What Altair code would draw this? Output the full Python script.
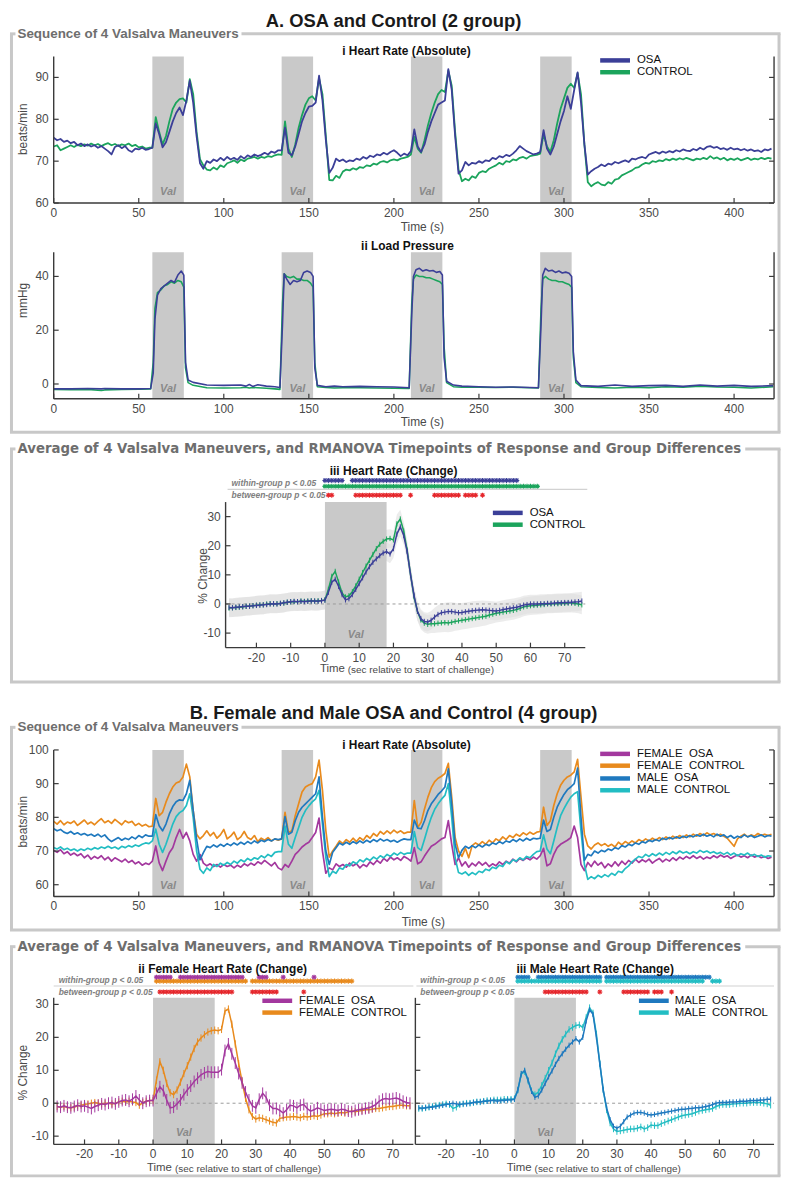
import altair as alt
import pandas as pd

FONT = "Liberation Sans"
BOXFONT = "DejaVu Sans"
AXC = "#3a3a3a"
TXC = "#4a4a4a"
BOXC = "#c8c8c8"
VALC = "#c9c9c9"
C_OSA, C_CTL = "#3b3f98", "#1ba45c"
C_FO, C_FC, C_MO, C_MC = "#a3389e", "#e88a1d", "#1f79bf", "#22bdc3"
C_RED = "#e5262b"

# ------------------------------------------------------------------ data
HR_T = list(range(0, 423, 2))  # seconds, one sample every 2 s

A_OSA = [75.6,75.0,75.3,74.6,74.9,74.3,74.6,73.8,74.2,73.6,74.0,73.5,73.8,73.2,73.6,73.0,72.4,71.6,73.4,73.8,73.1,73.6,72.6,72.2,73.0,72.8,73.2,72.7,72.9,
         73.2,79.0,76.5,73.3,74.5,77.0,79.5,81.5,82.8,81.0,84.5,89.2,84.0,76.0,69.5,68.2,70.0,69.6,70.4,70.0,70.8,70.2,71.0,70.4,70.8,70.3,71.2,70.6,71.4,71.0,71.6,71.2,71.5,72.0,71.6,72.3,72.0,72.6,
         72.6,78.0,72.0,71.4,73.5,76.5,79.5,81.5,83.0,83.2,84.0,90.4,84.5,75.0,67.2,68.4,70.6,70.0,70.4,69.8,70.2,70.0,70.6,70.3,71.0,70.6,71.3,71.0,71.6,71.4,72.0,71.6,72.2,72.6,72.0,71.2,71.8,71.4,
         72.4,77.6,73.5,72.2,74.0,77.0,79.5,81.5,83.5,84.0,84.5,92.0,87.0,76.0,67.0,67.8,69.8,69.0,69.6,69.4,70.0,69.6,70.2,70.0,70.8,70.5,71.2,70.9,71.5,71.2,71.8,72.6,73.6,73.0,72.4,72.0,71.6,71.8,
         72.2,77.4,73.0,71.6,73.5,76.5,79.5,82.0,85.5,82.5,87.0,91.2,84.0,74.0,66.8,67.6,68.2,68.6,69.2,68.8,69.4,69.2,69.8,69.5,69.9,70.2,69.8,70.6,70.4,70.8,71.0,70.7,71.6,71.9,72.2,71.8,72.3,72.0,72.4,72.1,
         72.6,72.3,72.8,72.5,72.4,72.9,72.6,73.2,72.8,73.4,73.6,73.2,73.4,72.9,73.1,72.7,73.2,72.8,73.0,72.6,72.9,72.5,72.8,72.4,72.6,72.2,72.8,72.6,73.0]
A_CTL = [73.5,73.8,72.6,73.0,73.4,73.8,73.4,73.9,73.6,74.0,73.7,74.2,73.8,74.1,73.6,74.0,74.3,73.8,74.1,73.6,74.0,73.8,74.2,73.6,73.9,73.3,73.5,73.0,73.2,
         73.2,80.5,77.0,74.0,76.0,79.5,82.5,84.0,84.8,85.0,84.0,89.6,86.0,77.0,70.5,69.0,68.0,67.8,68.5,68.0,69.0,68.6,69.5,69.8,70.2,69.6,70.4,70.0,70.6,70.8,71.0,70.6,71.0,70.8,71.2,71.0,71.4,71.6,
         71.5,79.5,73.0,71.0,74.0,78.0,81.0,83.5,85.0,85.5,84.5,89.8,86.0,76.0,65.5,65.4,66.5,66.0,67.5,68.0,67.8,68.3,68.0,68.6,68.4,69.0,68.8,69.4,69.2,69.8,70.0,69.7,70.2,70.4,70.2,70.6,70.8,71.0,
         71.6,75.8,73.0,72.0,75.0,78.5,81.5,84.0,86.0,87.0,86.5,91.6,88.0,77.0,68.0,65.2,65.8,65.4,66.4,66.0,67.2,67.6,67.4,68.2,68.6,69.0,69.6,69.2,70.0,69.8,70.4,70.2,70.8,71.0,70.6,71.2,71.4,71.5,
         71.8,76.5,73.5,72.2,75.0,79.0,82.5,85.0,87.5,88.5,87.5,91.0,86.0,74.0,65.0,64.0,64.6,65.0,64.4,64.2,65.0,64.6,65.6,65.8,66.6,67.0,67.4,67.8,68.4,68.6,69.2,69.6,69.4,70.0,69.8,70.2,70.0,70.5,70.2,70.6,
         70.3,70.7,70.4,70.8,70.5,70.2,70.6,70.4,70.8,70.5,71.2,70.6,70.9,70.4,70.8,70.2,70.6,70.3,70.7,70.2,70.5,70.8,70.3,70.6,70.4,70.8,70.5,70.8,70.6]

P_T = [0,10,20,28,30,40,50,57,
       58.5,59.5,61,63,65,67,69,71,73,75,76.5,77.5,79,
       82,90,100,110,113,115,117,120,125,130,133,
       134.5,135.5,137,139,141,143,145,147,149,151,152.5,153.5,155,
       160,165,170,180,190,200,209,
       210.5,211.5,213,215,217,219,221,223,225,227,228.5,229.5,231,
       235,240,250,260,270,280,285,
       286.5,287.5,289,291,293,295,297,299,301,303,304.5,305.5,307,
       310,320,330,340,350,360,370,380,390,400,410,423]
P_OSA = [-1.8,-1.8,-1.7,-1.8,-1.7,-1.8,-1.8,-1.7,
         4.0,24.0,33.0,35.5,36.5,37.5,38.5,37.8,40.5,42.0,40.5,8.0,1.5,
         0.6,-0.4,-0.5,-0.4,-0.8,-0.2,-0.9,-0.3,-0.8,-1.0,-1.3,
         22.0,41.0,39.0,37.0,38.5,38.0,38.5,41.5,42.0,41.5,40.0,6.0,-0.5,
         -1.0,-0.8,-1.0,-0.9,-1.0,-1.1,-1.4,
         26.0,40.0,42.5,43.0,42.0,42.5,42.0,42.2,41.5,41.8,40.5,10.0,1.0,
         -0.4,-0.8,-1.0,-1.2,-1.1,-1.3,-1.4,
         22.0,40.5,43.0,42.0,42.3,41.5,42.0,41.3,41.6,41.2,40.0,12.0,1.5,
         -0.6,-0.9,-0.4,-0.9,-0.6,-0.5,-0.9,-0.4,-0.8,-0.5,-0.9,-0.6]
P_CTL = [-2.0,-2.1,-2.0,-2.4,-2.2,-2.0,-1.9,-1.8,
         8.0,28.0,34.0,35.0,36.5,37.0,38.0,37.5,38.5,38.0,36.0,6.0,0.5,
         -0.5,-1.4,-1.5,-1.4,-1.2,-1.5,-1.3,-1.4,-1.6,-1.8,-2.0,
         30.0,41.0,40.0,39.5,40.0,39.0,39.0,38.5,38.5,37.5,36.0,8.0,-1.0,
         -1.3,-1.5,-1.4,-1.4,-1.5,-1.6,-1.7,
         30.0,39.0,40.5,40.0,40.0,39.5,39.5,39.0,38.5,38.0,37.0,14.0,0.5,
         -1.0,-1.2,-1.2,-1.3,-1.2,-1.4,-1.5,
         28.0,39.0,40.0,39.0,38.5,38.5,38.0,38.0,37.5,37.0,36.0,10.0,0.5,
         -1.0,-1.3,-1.5,-1.2,-1.4,-1.0,-1.2,-0.8,-1.1,-1.2,-1.5,-1.0]

VAL_START = [58, 134, 210, 286]
VAL_END = [76.5, 152.5, 228.5, 304.5]

B_FO = [70.2,69.6,70.4,69.2,69.8,68.8,69.4,68.6,69.2,68.0,68.8,67.6,68.4,67.8,68.6,67.4,68.2,67.0,68.0,67.4,66.8,67.6,66.6,67.2,66.2,66.8,65.8,66.4,66.0,
        67.0,71.5,66.5,64.2,67.0,69.5,71.0,74.0,76.4,73.8,75.5,73.0,69.0,67.0,69.0,66.4,65.6,66.2,65.4,66.0,65.2,66.0,65.4,65.8,65.0,65.8,65.2,66.2,65.6,66.4,65.8,66.8,66.2,67.2,66.4,65.6,66.6,65.0,
        64.4,66.0,65.2,67.0,69.0,70.0,71.2,72.0,72.6,74.0,75.5,79.8,70.0,63.4,65.0,64.4,66.2,65.4,66.0,65.2,66.4,65.6,66.2,65.0,66.0,65.4,66.8,66.0,67.2,66.4,67.8,67.0,68.2,67.4,68.0,67.2,68.4,67.8,
        67.0,71.0,66.2,66.8,68.5,70.0,71.4,72.0,72.8,73.6,74.0,79.0,72.0,66.0,68.0,65.6,66.8,65.2,66.4,65.6,66.8,65.8,66.6,65.4,66.2,65.6,66.8,66.0,67.0,66.4,67.6,66.8,67.8,67.2,68.0,67.4,68.2,67.6,
        68.6,70.8,65.6,66.2,69.0,71.0,72.0,72.6,73.2,74.0,77.4,74.0,66.0,64.2,66.6,65.4,67.0,65.8,66.6,65.0,66.2,65.4,66.8,65.6,67.0,66.0,67.2,66.4,67.6,66.6,67.4,66.8,67.6,66.4,67.2,67.8,66.8,67.6,67.0,68.0,
        67.2,68.2,67.6,68.4,67.8,68.6,67.8,68.4,67.6,68.2,67.8,68.6,68.0,68.8,68.2,68.6,67.8,68.4,68.8,68.2,68.6,68.0,68.8,68.2,68.6,68.0,68.4,67.8,68.2]
B_FC = [78.8,78.0,79.0,77.8,78.6,78.2,78.9,77.6,78.4,79.2,78.0,78.6,77.8,78.8,79.6,78.4,79.0,78.2,79.4,78.6,77.8,79.0,78.4,78.8,77.6,78.2,77.4,77.9,77.2,
        77.4,85.6,80.5,81.5,84.5,87.0,89.0,90.2,90.6,92.0,95.8,92.0,82.0,75.0,73.6,74.6,76.0,74.5,75.5,73.8,74.8,76.4,73.6,74.4,75.6,73.4,74.2,75.8,74.0,73.4,74.6,72.8,73.8,73.2,74.0,73.0,73.6,73.2,
        73.6,81.5,75.5,76.0,80.5,84.0,87.5,89.0,89.6,90.0,92.0,97.0,88.0,76.0,68.2,70.0,71.4,73.0,72.2,73.4,72.6,73.8,72.8,74.0,73.2,74.6,73.8,75.2,74.4,75.8,75.0,76.0,75.2,76.2,75.4,76.0,75.2,75.6,
        75.6,85.0,77.0,78.5,82.5,86.0,88.8,90.6,91.6,92.2,93.0,96.0,86.0,74.0,70.0,68.4,70.8,68.0,71.6,72.4,71.8,72.8,72.0,73.2,72.4,73.6,73.0,74.2,73.4,74.6,74.0,75.0,74.4,75.4,74.8,75.6,75.0,75.6,
        75.8,83.0,77.6,79.0,83.5,87.0,89.5,91.0,92.0,92.5,93.5,97.2,86.0,75.0,71.5,70.6,71.8,72.4,71.6,72.2,71.4,72.0,71.2,72.6,71.8,72.8,72.2,73.0,72.4,73.4,72.8,73.6,73.0,73.8,73.2,74.0,73.4,74.2,73.6,74.4,
        73.8,74.6,74.0,74.8,74.2,75.0,74.4,75.2,74.6,75.4,74.8,75.2,74.6,75.0,74.4,73.8,72.6,71.4,73.6,74.4,75.0,74.2,74.8,74.4,75.2,74.6,75.0,74.6,75.0]
B_MO = [76.6,76.0,76.4,75.6,75.2,75.8,75.0,75.4,74.8,75.2,74.6,75.0,74.4,75.0,74.2,74.8,73.6,72.8,73.4,74.0,73.2,73.8,73.4,74.2,73.6,74.6,74.0,74.8,74.4,
        74.4,80.8,77.5,76.0,78.0,81.0,83.2,84.6,85.2,85.0,87.0,91.0,82.0,73.5,67.4,69.5,71.4,71.0,71.8,71.2,72.0,71.4,72.2,71.6,72.4,71.8,72.6,72.0,72.8,72.2,73.0,72.4,73.2,72.8,73.4,73.0,73.6,73.4,
        73.6,80.2,75.0,75.6,79.0,81.5,83.0,84.0,85.0,86.0,87.0,92.0,80.0,70.0,66.0,69.6,71.0,72.4,71.8,72.6,72.0,72.8,72.2,73.0,72.4,73.2,72.6,73.4,72.8,73.6,73.0,73.4,72.8,73.2,72.6,73.2,73.6,73.4,
        73.4,79.2,76.8,76.6,79.0,82.0,84.0,85.4,86.8,87.8,89.0,94.4,84.0,72.0,68.0,70.2,71.4,70.8,71.6,71.0,71.8,71.2,72.0,71.6,72.4,72.0,72.8,72.2,73.0,72.6,73.4,72.8,73.6,73.0,73.8,73.2,73.8,73.6,
        73.8,79.2,75.8,76.4,80.0,83.0,85.0,86.8,88.2,89.0,90.0,94.6,80.0,67.2,69.0,68.6,70.0,69.4,70.2,69.8,70.6,70.2,71.0,70.6,71.6,71.2,72.0,71.6,72.4,72.0,72.8,72.4,73.2,72.8,73.4,73.0,73.8,73.4,74.0,73.6,
        74.2,73.8,74.4,74.0,74.6,74.2,74.8,74.4,75.0,74.4,74.8,74.2,75.0,74.4,74.8,74.0,74.6,73.8,74.4,74.0,74.8,74.2,74.6,74.0,74.4,74.8,74.2,74.6,74.4]
B_MC = [71.0,70.6,71.2,70.4,70.8,70.2,70.6,70.0,70.6,70.2,70.8,70.4,71.0,70.6,71.2,70.8,71.4,70.8,71.2,70.6,71.4,71.0,71.6,71.2,71.8,71.4,72.0,72.4,72.2,
        73.0,76.5,72.0,69.6,72.0,75.0,78.0,80.2,81.4,82.0,83.5,87.0,80.0,70.0,64.6,63.4,65.0,64.2,66.0,65.4,66.4,65.8,66.6,66.0,67.0,66.4,67.4,66.8,67.8,67.2,68.0,67.6,68.6,68.0,69.0,68.4,69.6,69.8,
        69.8,77.4,72.0,70.8,74.0,77.0,80.0,82.0,83.4,84.6,85.5,88.0,78.0,68.0,62.4,64.0,63.4,65.0,64.6,66.0,65.6,66.8,66.2,67.4,66.8,67.8,67.2,68.2,67.6,68.6,68.0,69.0,68.4,69.4,68.8,69.6,69.0,69.4,
        69.4,75.8,71.0,70.2,73.5,77.0,80.0,82.4,84.0,85.4,86.5,90.0,80.0,68.0,63.6,63.2,63.8,62.8,63.6,63.0,64.0,63.6,64.6,64.2,65.2,64.8,65.8,65.4,66.8,66.2,67.4,67.0,68.0,67.4,68.4,68.0,69.0,69.8,
        70.0,74.8,70.6,69.2,73.0,77.0,80.5,82.6,84.4,86.0,87.0,87.6,76.0,66.0,61.6,62.4,61.8,62.8,62.2,63.0,62.4,63.4,62.8,64.0,63.6,64.8,65.6,66.8,67.6,68.4,68.0,69.0,68.4,69.2,68.6,69.4,68.8,69.6,69.0,69.8,
        69.2,70.0,69.4,69.8,69.2,69.8,69.4,70.2,69.6,70.0,69.4,69.8,69.2,69.6,69.0,69.6,68.8,69.4,68.6,69.2,68.8,69.4,68.6,69.0,68.4,68.8,68.2,68.6,68.4]

CH_T = list(range(-28, 76))  # seconds relative to start of challenge
A3_OSA = [-1.2,-1.3,-1.1,-1.0,-0.9,-0.8,-0.8,-0.6,-0.5,-0.4,
          -0.3,-0.2,0.0,0.1,0.0,0.2,0.4,0.6,0.8,0.9,
          0.8,0.9,0.8,0.9,1.0,1.0,0.9,1.1,1.3,4.0,
          7.5,8.5,6.0,3.2,1.4,1.8,3.2,5.0,7.0,9.0,
          11.0,12.8,14.3,15.5,16.6,17.5,18.0,17.2,19.0,24.0,
          26.5,23.5,18.0,10.0,3.0,-2.5,-5.0,-6.0,-6.2,-5.6,
          -4.5,-3.6,-3.0,-2.8,-2.6,-2.6,-2.8,-3.0,-2.9,-2.7,
          -2.5,-2.3,-2.2,-2.1,-2.0,-2.1,-2.2,-2.3,-2.4,-2.2,
          -1.9,-1.7,-1.5,-1.3,-1.1,-0.8,-0.4,-0.2,0.0,0.0,
          0.0,0.1,0.1,0.2,0.2,0.3,0.4,0.4,0.5,0.5,
          0.6,0.7,0.8,1.0]
A3_CTL = [-1.4,-1.3,-1.2,-1.1,-1.0,-0.8,-0.7,-0.6,-0.4,-0.3,
          -0.3,0.0,0.1,0.0,0.1,0.2,0.3,0.6,0.7,0.8,
          0.8,1.0,0.9,1.0,1.1,1.0,1.1,1.2,1.4,5.0,
          9.5,11.2,7.5,3.8,2.4,2.8,4.2,6.2,8.5,10.8,
          13.0,15.0,17.0,19.0,20.5,21.5,22.3,22.5,22.0,27.5,
          29.2,25.0,18.5,10.0,2.5,-2.5,-5.5,-6.6,-7.0,-6.8,
          -6.8,-6.6,-6.5,-6.4,-6.5,-6.3,-6.0,-5.8,-5.6,-5.4,
          -5.2,-5.0,-4.8,-4.6,-4.4,-4.2,-3.8,-3.5,-3.2,-3.0,
          -2.8,-2.6,-2.4,-2.2,-1.9,-1.5,-1.0,-0.8,-0.6,-0.5,
          -0.4,-0.3,-0.2,0.0,0.0,0.1,0.1,0.2,0.2,0.3,
          0.3,0.2,0.0,-0.3]
B2_FO = [-1.0,-1.2,-0.8,-1.2,-1.4,-1.0,-0.6,-1.0,-0.8,-1.2,
         -1.6,-1.0,-0.6,-0.2,-0.4,0.0,0.2,-0.2,0.4,0.8,
         1.0,0.6,1.2,2.2,1.0,0.0,0.6,0.8,0.8,3.0,
         5.0,3.8,1.0,-1.4,-1.2,-0.2,1.0,2.6,4.0,5.2,
         6.6,7.6,8.6,9.2,9.6,9.4,9.4,9.4,10.2,16.0,
         18.0,15.0,12.2,9.0,6.2,3.4,1.0,-0.8,-1.4,1.2,
         3.0,1.8,-0.6,-1.6,-1.6,-2.2,-3.0,-2.0,-0.6,-0.8,
         -1.4,-0.6,-0.4,-1.6,-2.4,-2.0,-1.4,-1.8,-2.2,-2.0,
         -1.8,-2.0,-2.2,-1.8,-2.0,-2.4,-2.6,-2.2,-2.0,-1.8,
         -1.6,-1.4,-1.0,-0.4,0.6,1.2,1.4,1.2,1.4,1.6,
         1.2,0.6,0.2,0.0]
B2_FC = [-1.0,-1.2,-1.0,-1.3,-1.4,-1.2,-0.8,-0.6,-0.4,-0.2,
         0.0,0.2,0.0,-0.2,0.0,0.0,-0.2,0.0,0.4,0.6,
         0.4,0.6,0.4,0.2,-0.6,0.2,0.6,0.8,0.8,7.0,
         12.6,10.0,6.0,3.2,2.6,4.0,6.4,9.0,11.4,14.0,
         16.6,18.6,19.8,20.8,21.6,22.0,22.2,22.0,22.4,28.0,
         28.6,24.0,18.0,12.0,6.5,1.5,-2.0,-4.0,-4.8,-4.4,
         -4.6,-5.0,-5.4,-5.8,-6.0,-4.6,-4.4,-4.2,-4.2,-4.0,
         -4.2,-4.4,-4.0,-4.2,-4.0,-3.8,-4.0,-3.6,-3.2,-3.2,
         -3.0,-3.2,-3.0,-2.8,-3.0,-2.6,-2.4,-2.6,-2.4,-2.2,
         -2.0,-2.0,-1.8,-1.6,-1.6,-1.4,-1.2,-1.0,-1.0,-0.8,
         -0.6,-0.6,-0.8,-0.8]
B3_MO = [-1.4,-1.5,-1.4,-1.2,-1.2,-1.0,-0.8,-0.6,-0.4,-0.2,
         0.0,-0.2,-0.4,-0.2,-0.2,0.0,0.2,0.4,0.4,0.6,
         0.6,0.8,0.8,0.6,0.8,0.8,1.0,1.0,1.2,4.0,
         9.0,10.0,7.0,3.6,1.8,2.2,4.0,6.0,8.0,9.8,
         11.8,13.6,15.0,16.4,17.6,18.6,19.6,18.6,20.0,25.0,
         28.4,27.0,20.0,12.0,4.0,-1.5,-5.0,-7.0,-7.6,-7.0,
         -5.6,-4.2,-3.6,-3.0,-2.8,-2.8,-3.0,-3.4,-3.6,-3.4,
         -3.2,-3.0,-2.8,-2.6,-2.4,-2.2,-2.0,-1.8,-1.8,-1.6,
         -1.6,-1.4,-1.4,-1.2,-1.0,-0.8,-0.4,0.0,0.2,0.2,
         0.2,0.4,0.4,0.4,0.6,0.6,0.6,0.8,0.8,0.8,
         1.0,1.0,1.2,1.2]
B3_MC = [-1.6,-1.6,-1.4,-1.2,-1.0,-0.8,-0.6,-0.4,-0.2,-0.4,
         -1.6,-1.2,-0.4,-0.2,0.0,0.0,0.2,0.4,0.4,0.6,
         0.8,0.8,1.0,1.0,1.0,1.2,1.2,1.2,1.4,4.0,
         8.8,9.6,6.8,3.8,2.6,3.4,5.4,7.6,10.0,12.2,
         15.0,17.4,19.4,21.0,22.4,23.0,23.6,23.8,23.0,26.0,
         29.0,27.4,21.0,12.0,4.0,-2.0,-6.0,-7.8,-8.6,-8.4,
         -8.2,-8.0,-7.8,-7.8,-7.6,-7.2,-7.8,-7.4,-6.6,-6.8,
         -6.8,-6.2,-5.8,-5.4,-5.0,-4.6,-4.2,-3.8,-3.6,-3.4,
         -3.2,-2.8,-2.4,-2.2,-2.0,-1.8,-1.6,-1.0,-0.6,-0.4,
         -0.4,-0.4,-0.2,-0.2,0.0,0.0,0.0,0.2,0.2,0.2,
         0.2,0.0,-0.2,-0.6]

SE = {"A3_OSA": 0.9, "A3_CTL": 0.9, "B2_FO": 1.8, "B2_FC": 1.1, "B3_MO": 0.8, "B3_MC": 1.0}
GLOW = 3.2

# RMANOVA significant timepoints (s), as [start, end] runs
A3_W_OSA = [(0, 5), (8, 56)]
A3_W_CTL = [(0, 62)]
A3_BETWEEN = [(1, 2), (9, 22), (25, 25), (32, 39), (41, 44), (46, 46)]
B2_W_FO = [(1, 5), (8, 26), (31, 33), (38, 38), (47, 47)]
B2_W_FC = [(1, 27), (29, 58)]
B2_BETWEEN = [(2, 23), (29, 36), (44, 44)]
B3_W_MO = [(1, 4), (7, 25), (27, 57)]
B3_W_MC = [(1, 25), (27, 55), (58, 60)]
B3_BETWEEN = [(9, 21), (25, 25), (32, 39), (41, 43), (46, 46)]

ABS_XT = [0, 50, 100, 150, 200, 250, 300, 350, 400]
CH_XT = [-20, -10, 0, 10, 20, 30, 40, 50, 60, 70]
CH_YT = [-10, 0, 10, 20, 30]

# ------------------------------------------------------------------ layout (one canvas, pixel ranges per panel)
KY = 0.99  # slight vertical compression so the whole figure fits the page


def fy(v):
    return round(v * KY, 2)


PAN = {
    "A1": dict(xd=[0, 423.5], xr=[0, 725], yd=[60, 95], yr=[149, 0]),
    "A2": dict(xd=[0, 423.5], xr=[0, 725], yd=[-5.5, 49], yr=[348, 199]),
    "A3": dict(xd=[-29, 76], xr=[173, 535], yd=[-15, 35], yr=[601, 453]),
    "B1": dict(xd=[0, 423.5], xr=[0, 725], yd=[56.5, 100], yr=[854, 705]),
    "B2": dict(xd=[-29, 76], xr=[0, 362], yd=[-12.5, 32], yr=[1106, 957]),
    "B3": dict(xd=[-29, 76], xr=[364, 725], yd=[-12.5, 32], yr=[1106, 957]),
}


def X(p, f):
    d = PAN[p]
    return alt.X(f"{f}:Q", scale=alt.Scale(domain=d["xd"], range=d["xr"], nice=False, zero=False), axis=None)


def Y(p, f):
    d = PAN[p]
    return alt.Y(f"{f}:Q", scale=alt.Scale(domain=d["yd"], range=[fy(d["yr"][0]), fy(d["yr"][1])], nice=False, zero=False), axis=None)


ONE = pd.DataFrame({"k": [0]})


def txt(x, y, s, size=12, color="#111111", weight="normal", align="left", style=None, angle=None, font=FONT):
    kw = dict(font=font, fontSize=size, color=color, fontWeight=weight, align=align, baseline="middle")
    if style:
        kw["fontStyle"] = style
    if angle is not None:
        kw["angle"] = angle
    return alt.Chart(ONE).mark_text(**kw).encode(x=alt.value(x), y=alt.value(fy(y)), text=alt.value(s))


def hrule(x1, x2, y, color, w, dash=None):
    kw = dict(color=color, strokeWidth=w)
    if dash:
        kw["strokeDash"] = dash
    return alt.Chart(ONE).mark_rule(**kw).encode(x=alt.value(x1), x2=alt.value(x2), y=alt.value(fy(y)))


def vrule(x, y1, y2, color, w):
    return alt.Chart(ONE).mark_rule(color=color, strokeWidth=w).encode(x=alt.value(x), y=alt.value(fy(y1)), y2=alt.value(fy(y2)))


def series(p, t, v, color, w):
    n = min(len(t), len(v))
    df = pd.DataFrame({"t": t[:n], "v": v[:n]})
    return alt.Chart(df).mark_line(color=color, strokeWidth=w, strokeJoin="round").encode(x=X(p, "t"), y=Y(p, "v"))


def val_layers(p, starts, ends, ytop, ybot, ytxt):
    df = pd.DataFrame({"s": starts, "e": ends, "m": [(a + b) / 2 for a, b in zip(starts, ends)]})
    r = alt.Chart(df).mark_rect(color=VALC).encode(x=X(p, "s"), x2=alt.X2("e"), y=alt.value(fy(ytop)), y2=alt.value(fy(ybot)))
    t = alt.Chart(df).mark_text(font=FONT, fontSize=11, fontStyle="italic", fontWeight="bold", color="#8a8a8a").encode(
        x=X(p, "m"), y=alt.value(fy(ytxt)), text=alt.value("Val"))
    return [r, t]


def axis_layers(p, xt, yt, x0, x1, y0, y1, right=False, ylab=True):
    L = [vrule(x0, y0, y1, AXC, 1.4), hrule(x0, x1, y1, AXC, 1.4)]
    if right:
        L.append(vrule(x1, y0, y1, AXC, 1.4))
    yb = fy(y1)
    ydf = pd.DataFrame({"v": yt, "lab": [str(v) for v in yt]})
    xdf = pd.DataFrame({"v": xt, "lab": [str(v) for v in xt]})
    L.append(alt.Chart(ydf).mark_rule(color=AXC, strokeWidth=1.2).encode(y=Y(p, "v"), x=alt.value(x0), x2=alt.value(x0 + 5)))
    if right:
        L.append(alt.Chart(ydf).mark_rule(color=AXC, strokeWidth=1.2).encode(y=Y(p, "v"), x=alt.value(x1 - 5), x2=alt.value(x1)))
    L.append(alt.Chart(xdf).mark_rule(color=AXC, strokeWidth=1.2).encode(x=X(p, "v"), y=alt.value(yb - 5), y2=alt.value(yb)))
    if ylab:
        L.append(alt.Chart(ydf).mark_text(font=FONT, fontSize=12, color=TXC, align="right", baseline="middle").encode(
            y=Y(p, "v"), x=alt.value(x0 - 5), text="lab:N"))
    L.append(alt.Chart(xdf).mark_text(font=FONT, fontSize=12, color=TXC, align="center", baseline="middle").encode(
        x=X(p, "v"), y=alt.value(yb + 10), text="lab:N"))
    return L


def change_df(t, v, se):
    n = min(len(t), len(v))
    df = pd.DataFrame({"t": t[:n], "v": v[:n]})
    df["lo"] = df["v"] - se
    df["hi"] = df["v"] + se
    df["glo"] = df["v"] - GLOW
    df["ghi"] = df["v"] + GLOW
    return df


def glow_layer(p, df):
    return alt.Chart(df).mark_area(color="#e0e0e0", opacity=0.6).encode(x=X(p, "t"), y=Y(p, "glo"), y2=alt.Y2("ghi"))


def err_layers(p, df, color):
    return [alt.Chart(df).mark_rule(color=color, strokeWidth=1).encode(x=X(p, "t"), y=Y(p, "lo"), y2=alt.Y2("hi")),
            alt.Chart(df).mark_line(color=color, strokeWidth=1.5).encode(x=X(p, "t"), y=Y(p, "v"))]


def zero_line(p, x0, x1):
    return alt.Chart(pd.DataFrame({"v": [0]})).mark_rule(color="#9a9a9a", strokeWidth=1, strokeDash=[3, 3]).encode(
        y=Y(p, "v"), x=alt.value(x0), x2=alt.value(x1))


AST = "M-1,0L1,0M0,-1L0,1M-0.7,-0.7L0.7,0.7M-0.7,0.7L0.7,-0.7"


def stars(p, segs, y, color):
    ts = [s for a, b in segs for s in range(a, b + 1)]
    df = pd.DataFrame({"t": ts})
    return alt.Chart(df).mark_point(shape=AST, filled=False, size=26, strokeWidth=1.1, opacity=1, color=color).encode(
        x=X(p, "t"), y=alt.value(fy(y)))


# ---- A1
A1 = alt.layer(*val_layers("A1", VAL_START, VAL_END, 0, 149, 138),
               series("A1", HR_T, A_CTL, C_CTL, 1.8), series("A1", HR_T, A_OSA, C_OSA, 1.8),
               *axis_layers("A1", ABS_XT, [60, 70, 80, 90], 0, 725, 0, 149, right=True))
# ---- A2
A2 = alt.layer(*val_layers("A2", VAL_START, VAL_END, 199, 348, 338),
               series("A2", P_T, P_CTL, C_CTL, 1.6), series("A2", P_T, P_OSA, C_OSA, 1.6),
               *axis_layers("A2", ABS_XT, [0, 20, 40], 0, 725, 199, 348, right=True))
# ---- A3
dA_o = change_df(CH_T, A3_OSA, SE["A3_OSA"])
dA_c = change_df(CH_T, A3_CTL, SE["A3_CTL"])
A3 = alt.layer(glow_layer("A3", dA_c), glow_layer("A3", dA_o),
               *val_layers("A3", [0], [18], 453, 601, 588),
               zero_line("A3", 173, 535),
               *err_layers("A3", dA_c, C_CTL), *err_layers("A3", dA_o, C_OSA),
               stars("A3", A3_W_OSA, 431, C_OSA), stars("A3", A3_W_CTL, 437, C_CTL),
               stars("A3", A3_BETWEEN, 446, C_RED),
               *axis_layers("A3", CH_XT, CH_YT, 173, 535, 453, 601))
# ---- B1
B1 = alt.layer(*val_layers("B1", VAL_START, VAL_END, 705, 854, 843),
               series("B1", HR_T, B_FO, C_FO, 1.7), series("B1", HR_T, B_MC, C_MC, 1.7),
               series("B1", HR_T, B_FC, C_FC, 1.7), series("B1", HR_T, B_MO, C_MO, 1.7),
               *axis_layers("B1", ABS_XT, [60, 70, 80, 90, 100], 0, 725, 705, 854, right=True))
# ---- B2
dF_o = change_df(CH_T, B2_FO, SE["B2_FO"])
dF_c = change_df(CH_T, B2_FC, SE["B2_FC"])
B2 = alt.layer(*val_layers("B2", [0], [18], 957, 1106, 1094),
               zero_line("B2", 0, 362),
               *err_layers("B2", dF_c, C_FC), *err_layers("B2", dF_o, C_FO),
               stars("B2", B2_W_FC, 940, C_FC), stars("B2", B2_W_FO, 936, C_FO),
               stars("B2", B2_BETWEEN, 951, C_RED),
               *axis_layers("B2", CH_XT, CH_YT, 0, 362, 957, 1106))
# ---- B3
dM_o = change_df(CH_T, B3_MO, SE["B3_MO"])
dM_c = change_df(CH_T, B3_MC, SE["B3_MC"])
B3 = alt.layer(*val_layers("B3", [0], [18], 957, 1106, 1094),
               zero_line("B3", 364, 725),
               *err_layers("B3", dM_c, C_MC), *err_layers("B3", dM_o, C_MO),
               stars("B3", B3_W_MO, 936, C_MO), stars("B3", B3_W_MC, 940, C_MC),
               stars("B3", B3_BETWEEN, 951, C_RED),
               *axis_layers("B3", CH_XT, CH_YT, 364, 725, 957, 1106, ylab=False))

# ------------------------------------------------------------------ decorations
decos = []
BOX_L, BOX_R = -42.5, 730


def box(T, B, label_end, label, lsize, font):
    L, R = BOX_L, BOX_R
    return [hrule(L - 1.5, L + 4, T, BOXC, 3), hrule(label_end, R + 1.5, T, BOXC, 3),
            hrule(L - 1.5, R + 1.5, B, BOXC, 3), vrule(L, T, B, BOXC, 3), vrule(R, T, B, BOXC, 3),
            txt(L + 6, T, label, size=lsize, color="#6e6e6e", weight="bold", font=font)]


AVG = "Average of 4 Valsalva Maneuvers, and RMANOVA Timepoints of Response and Group Differences"
SEQ = "Sequence of 4 Valsalva Maneuvers"
decos += box(-23, 382, 189, SEQ, 13.5, FONT)
decos += box(399, 636, 696, AVG, 13.4, BOXFONT)
decos += box(682, 888, 189, SEQ, 13.5, FONT)
decos += box(905, 1138, 696, AVG, 13.4, BOXFONT)

decos.append(txt(342, -36, "A. OSA and Control (2 group)", size=18.5, weight="bold", color="#1a1a1a", align="center"))
decos.append(txt(342, 667, "B. Female and Male OSA and Control (4 group)", size=18.5, weight="bold", color="#1a1a1a", align="center"))

decos.append(txt(355, -6, "i  Heart Rate (Absolute)", weight="bold", align="center"))
decos.append(txt(356, 193, "ii  Load Pressure", weight="bold", align="center"))
decos.append(txt(342, 421, "iii  Heart Rate (Change)", weight="bold", align="center"))
decos.append(txt(355, 700, "i  Heart Rate (Absolute)", weight="bold", align="center"))
decos.append(txt(170, 928, "ii  Female Heart Rate (Change)", weight="bold", align="center"))
decos.append(txt(545, 928, "iii  Male Heart Rate (Change)", weight="bold", align="center"))

for (x, y, s) in [(-31, 74, "beats/min"), (-31, 248, "mmHg"), (150, 528, "% Change"),
                  (-31, 778, "beats/min"), (-31, 1033, "% Change")]:
    decos.append(txt(x, y, s, size=12, color=TXC, align="center", angle=270))
for (x, y) in [(371, 173), (371, 372), (372, 880)]:
    decos.append(txt(x, y, "Time (s)", size=12, color=TXC, align="center"))
for (x, y) in [(293, 623), (119, 1130), (481, 1130)]:
    decos.append(txt(x, y, "Time", size=11.5, color=TXC, align="right"))
    decos.append(txt(x + 3, y + 1, "(sec relative to start of challenge)", size=10, color=TXC, align="left"))

for (x, yw, yb, xa, xb, ys) in [(179, 434, 446, 175, 537, 440), (5, 939, 951, 0, 362, 945), (369, 939, 951, 365, 725, 945)]:
    decos.append(hrule(xa, xb, ys, "#d2d2d2", 1.2))
    decos.append(txt(x, yw, "within-group p < 0.05", size=8.5, color="#808080", weight="bold", style="italic"))
    decos.append(txt(x, yb, "between-group p < 0.05", size=8.5, color="#808080", weight="bold", style="italic"))


def legend_item(x1, x2, xt, y, color, label):
    return [hrule(x1, x2, y, color, 4.5), txt(xt, y, label, size=11.5, color="#111111")]


NB = "\u00a0 "
decos += legend_item(550, 580, 587, 4, C_OSA, "OSA")
decos += legend_item(550, 580, 587, 16, C_CTL, "CONTROL")
decos += legend_item(442, 472, 479, 464, C_OSA, "OSA")
decos += legend_item(442, 472, 479, 476, C_CTL, "CONTROL")
decos += legend_item(550, 580, 587, 709, C_FO, "FEMALE" + NB + "OSA")
decos += legend_item(550, 580, 587, 721, C_FC, "FEMALE" + NB + "CONTROL")
decos += legend_item(550, 580, 587, 734, C_MO, "MALE" + NB + "OSA")
decos += legend_item(550, 580, 587, 746, C_MC, "MALE" + NB + "CONTROL")
decos += legend_item(210, 240, 247, 960, C_FO, "FEMALE" + NB + "OSA")
decos += legend_item(210, 240, 247, 972, C_FC, "FEMALE" + NB + "CONTROL")
decos += legend_item(589, 619, 625, 960, C_MO, "MALE" + NB + "OSA")
decos += legend_item(589, 619, 625, 972, C_MC, "MALE" + NB + "CONTROL")

chart = alt.layer(A1, A2, A3, B1, B2, B3, *decos).resolve_scale(
    x="independent", y="independent"
).properties(width=725, height=fy(1106), padding=0, background="white").configure_view(strokeWidth=0)

chart.save("out.html", embed_options={"renderer": "svg", "actions": False})
